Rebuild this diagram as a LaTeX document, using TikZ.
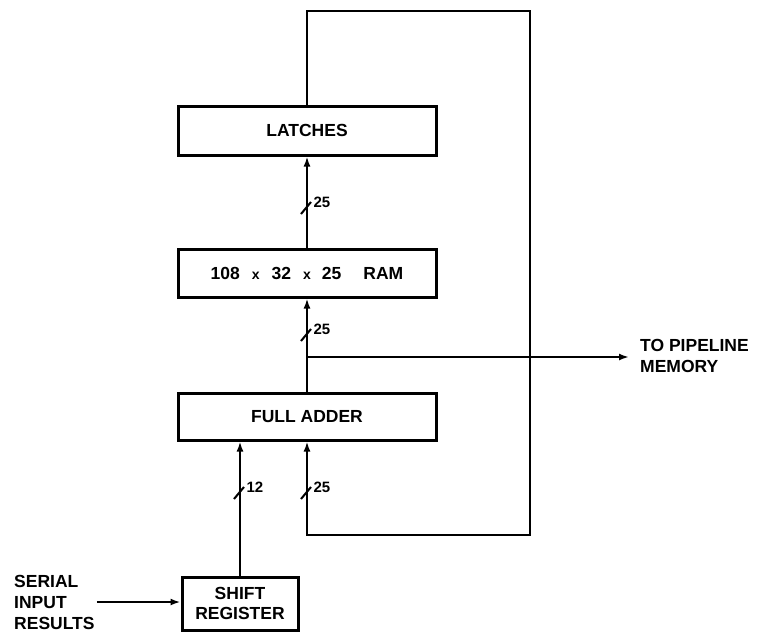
\documentclass[tikz,border=0pt]{standalone}
\usepackage{fontspec}
\setmainfont{Liberation Sans}
\usetikzlibrary{arrows.meta}

\begin{document}
\begin{tikzpicture}[x=1pt, y=-1pt,
        block/.style={draw, line width=3pt, inner sep=0pt, align=center, font=\bfseries\fontsize{17.5}{20}\selectfont},
        bus/.style={draw, line width=2pt},
        feed/.style={bus, -{Latex[length=10pt, width=7pt]}},
        lbl/.style={inner sep=0pt, align=left, font=\bfseries\fontsize{17.5}{21}\selectfont},
        width/.style={inner sep=1.5pt, anchor=west, font=\bfseries\fontsize{15}{16}\selectfont}
    ]
        \useasboundingbox (0,0) rectangle (763,632);

        \node[block, minimum width=258pt, minimum height=49pt] (latches) at (307,130.5) {LATCHES};
        \node[block, minimum width=258pt, minimum height=48pt] (ram) at (307,273) {108\hspace{12pt}{\fontsize{14}{14}\selectfont x}\hspace{12pt}32\hspace{12pt}{\fontsize{14}{14}\selectfont x}\hspace{11pt}25\hspace{22pt}RAM};
        \node[block, minimum width=258pt, minimum height=47pt] (adder) at (307,416.5) {FULL ADDER};
        \node[block, minimum width=116pt, minimum height=53pt] (sreg) at (240,603.5) {SHIFT\\REGISTER};

        \node[lbl, anchor=west] (serial) at (14,602) {SERIAL\\INPUT\\RESULTS};
        \node[lbl, anchor=west] (pipe) at (640,356) {TO PIPELINE\\MEMORY};

        % main data path
        \coordinate (tap) at (307,357);
        \coordinate (loopTL) at (307,11);
        \coordinate (loopTR) at (530,11);
        \coordinate (loopBR) at (530,535);
        \coordinate (loopBL) at (307,535);

        \draw[feed] (ram) -- (latches);
        \draw[feed] (adder) -- (ram);
        \draw[feed] (tap) -- ([xshift=-11pt]pipe.west |- tap);
        \draw[feed] (sreg.north) -- (adder.south -| sreg.north);
        \draw[feed] ([xshift=2pt]serial.east) -- (sreg.west |- serial.east);

        % feedback loop
        \draw[feed] (latches.north) -- (loopTL) -- (loopTR) -- (loopBR) -- (loopBL) -- (adder.south);

        % bus widths
        \coordinate (w1) at (307,208);
        \coordinate (w2) at (307,335);
        \coordinate (w3) at (240,493);
        \coordinate (w4) at (307,493);
        \foreach \c/\n in {w1/25, w2/25, w3/12, w4/25} {
            \draw[bus] ([shift={(-6,6)}]\c) -- ([shift={(4,-6)}]\c) node[width] {\n};
        }
    \end{tikzpicture}
\end{document}
